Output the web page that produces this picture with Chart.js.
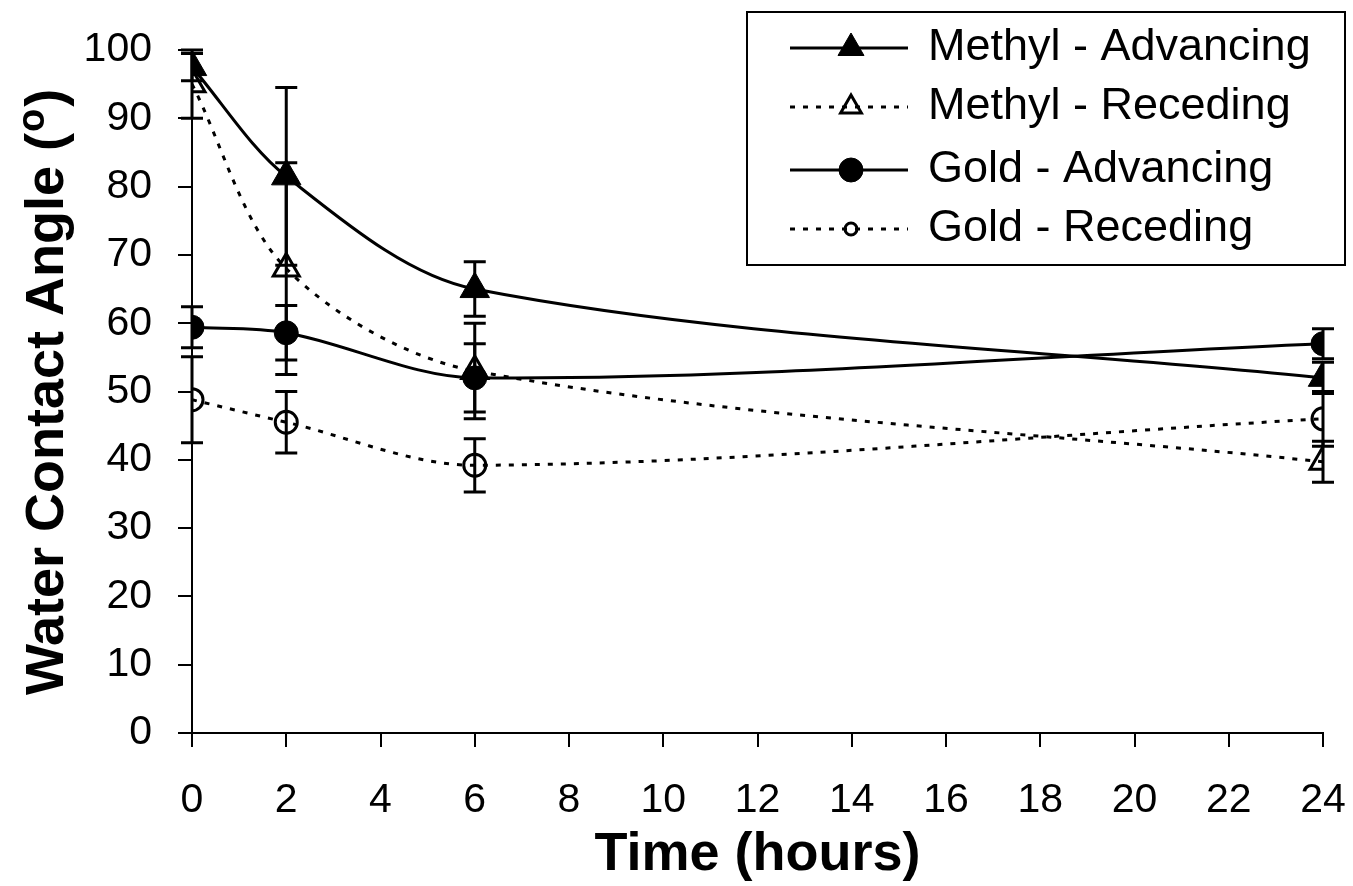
<!DOCTYPE html>
<html>
<head>
<meta charset="utf-8">
<script src="https://cdn.jsdelivr.net/npm/chart.js@4"></script>
<style>
  body { margin: 0; background: #fff; }
  #wrap { width: 1353px; height: 886px; position: relative; }
</style>
</head>
<body>
<div id="wrap"><canvas id="angleChart"></canvas></div>
<script>
// valores
const hours = [0, 2, 6, 24];
const xTicks = [0, 2, 4, 6, 8, 10, 12, 14, 16, 18, 20, 22, 24];
const yTicks = [0, 10, 20, 30, 40, 50, 60, 70, 80, 90, 100];

const methylAdv = [97.5, 81.5, 65, 52];
const methylAdvErr = [2, 13, 4, 2.3];
const methylRec = [95, 68, 53, 39.7];
const methylRecErr = [5, 15.5, 7, 3];
const goldAdv = [59.4, 58.6, 52, 57];
const goldAdvErr = [3, 4, 5, 2.2];
const goldRec = [48.8, 45.5, 39.2, 46];
const goldRecErr = [6.3, 4.5, 3.9, 4];

const FONT = '"Liberation Sans", Arial, sans-serif';

function pts(vals) {
    return hours.map((h, i) => ({ x: h, y: vals[i] }));
}

function serie(label, vals, err, style, filled, dashed, radius) {
    return {
        label: label,
        data: pts(vals),
        err: err,
        borderColor: '#000',
        borderWidth: 3,
        borderDash: dashed ? [5, 8] : [],
        pointStyle: style,
        pointRadius: radius,
        pointBorderWidth: filled ? 1 : 3,
        pointBackgroundColor: filled ? '#000' : 'rgba(0,0,0,0)',
        pointBorderColor: '#000',
        tension: 0.32,
        fill: false
    };
}

// barras de erro
const errorBars = {
    id: 'errorBars',
    beforeDatasetsDraw(chart) {
        const ctx = chart.ctx;
        const xs = chart.scales.x, ys = chart.scales.y;
        ctx.save();
        ctx.strokeStyle = '#000';
        ctx.lineWidth = 3;
        chart.data.datasets.forEach(ds => {
            ds.data.forEach((p, i) => {
                const px = xs.getPixelForValue(p.x);
                const top = ys.getPixelForValue(p.y + ds.err[i]);
                const bot = ys.getPixelForValue(p.y - ds.err[i]);
                ctx.beginPath();
                ctx.moveTo(px, top); ctx.lineTo(px, bot);
                ctx.moveTo(px - 11, top); ctx.lineTo(px + 11, top);
                ctx.moveTo(px - 11, bot); ctx.lineTo(px + 11, bot);
                ctx.stroke();
            });
        });
        ctx.restore();
    }
};

// legenda e título do eixo Y
const extras = {
    id: 'extras',
    afterDraw(chart) {
        const ctx = chart.ctx;
        ctx.save();
        ctx.strokeStyle = '#000';
        ctx.lineWidth = 2;
        ctx.strokeRect(747, 12, 598, 253);

        const rows = [48, 107, 170, 229];
        const legRadius = [15, 12, 12, 6];
        chart.data.datasets.forEach((ds, i) => {
            const y = rows[i];
            ctx.lineWidth = 3;
            ctx.setLineDash(ds.borderDash);
            ctx.beginPath();
            ctx.moveTo(790, y); ctx.lineTo(908, y);
            ctx.stroke();
            ctx.setLineDash([]);
            ctx.fillStyle = ds.pointBackgroundColor;
            ctx.lineWidth = ds.pointBorderWidth;
            Chart.helpers.drawPoint(ctx, {
                pointStyle: ds.pointStyle, radius: legRadius[i],
                rotation: 0, borderWidth: ds.pointBorderWidth
            }, 851, y);
            ctx.fillStyle = '#000';
            ctx.font = '45px ' + FONT;
            ctx.textBaseline = 'middle';
            ctx.textAlign = 'left';
            ctx.fillText(ds.label, 928, y);
        });

        // título Y com "o" sobrescrito
        ctx.translate(63, 695);
        ctx.rotate(-Math.PI / 2);
        ctx.textBaseline = 'alphabetic';
        ctx.textAlign = 'left';
        ctx.font = 'bold 54px ' + FONT;
        const part1 = 'Water Contact Angle (';
        ctx.fillText(part1, 0, 0);
        let w = ctx.measureText(part1).width;
        ctx.font = 'bold 38px ' + FONT;
        ctx.fillText('o', w + 1, -19);
        w += ctx.measureText('o').width + 3;
        ctx.font = 'bold 54px ' + FONT;
        ctx.fillText(')', w, 0);
        ctx.restore();
    }
};

const ctxAngle = document.getElementById('angleChart').getContext('2d');
new Chart(ctxAngle, {
    type: 'line',
    data: {
        datasets: [
            serie('Methyl - Advancing', methylAdv, methylAdvErr, 'triangle', true, false, 17),
            serie('Methyl - Receding', methylRec, methylRecErr, 'triangle', false, true, 15),
            serie('Gold - Advancing', goldAdv, goldAdvErr, 'circle', true, false, 12),
            serie('Gold - Receding', goldRec, goldRecErr, 'circle', false, true, 11)
        ]
    },
    options: {
        responsive: true,
        maintainAspectRatio: false,
        animation: false,
        layout: { padding: { top: 50, right: 30, left: 0, bottom: 0 } },
        plugins: {
            legend: { display: false },
            tooltip: { enabled: false }
        },
        scales: {
            x: {
                type: 'linear',
                min: 0, max: 24,
                afterBuildTicks: s => { s.ticks = xTicks.map(v => ({ value: v })); },
                afterFit: s => { s.height = 153; s.paddingLeft = 0; s.paddingRight = 0; },
                ticks: { color: '#000', font: { family: FONT, size: 41 }, padding: 29, maxRotation: 0 },
                grid: { drawOnChartArea: false, color: '#000', lineWidth: 2, tickLength: 14 },
                border: { color: '#000', width: 2 },
                title: {
                    display: true, text: 'Time (hours)', color: '#000',
                    font: { family: FONT, size: 54, weight: 'bold', lineHeight: 1 }, padding: { top: 0 }
                }
            },
            y: {
                min: 0, max: 100,
                afterBuildTicks: s => { s.ticks = yTicks.map(v => ({ value: v })); },
                afterFit: s => { s.width = 192; s.paddingTop = 0; s.paddingBottom = 0; },
                ticks: { color: '#000', font: { family: FONT, size: 41 }, padding: 26 },
                grid: { drawOnChartArea: false, color: '#000', lineWidth: 2, tickLength: 14 },
                border: { color: '#000', width: 2 }
            }
        }
    },
    plugins: [errorBars, extras]
});
</script>
</body>
</html>
